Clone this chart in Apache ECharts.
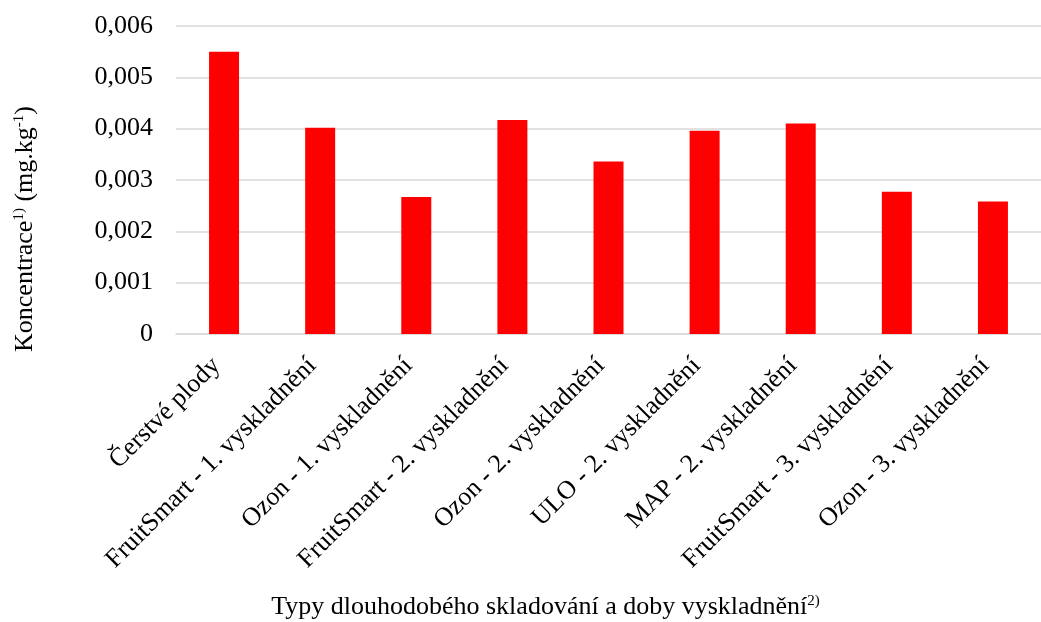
<!DOCTYPE html>
<html lang="cs">
<head>
    <meta charset="UTF-8">
    <title>Koncentrace</title>
    <script src="https://cdn.jsdelivr.net/npm/echarts@6/dist/echarts.min.js"></script>
    <style>
        html, body { margin: 0; padding: 0; background: #fff; }
        #chart { width: 1041px; height: 622px; }
    </style>
</head>
<body>
<div id="chart"></div>
<script type="text/javascript">
    // data
    var categories = ['Čerstvé plody', 'FruitSmart - 1. vyskladnění', 'Ozon - 1. vyskladnění',
        'FruitSmart - 2. vyskladnění', 'Ozon - 2. vyskladnění', 'ULO - 2. vyskladnění',
        'MAP - 2. vyskladnění', 'FruitSmart - 3. vyskladnění', 'Ozon - 3. vyskladnění'];
    var values = [0.0055, 0.00402, 0.00267, 0.00417, 0.00336, 0.00396, 0.0041, 0.00277, 0.00258];
    var yTicks = [0, 0.001, 0.002, 0.003, 0.004, 0.005, 0.006];

    var font = 'Liberation Serif';

    var option = {
        animation: false,
        grid: { left: 176, right: -8, top: 26, bottom: 288 },
        xAxis: {
            type: 'category',
            data: categories,
            axisLine: { lineStyle: { color: '#d9d9d9', width: 1.5 } },
            axisTick: { show: false },
            axisLabel: {
                interval: 0, rotate: 45, margin: 20,
                padding: [0, 11, 0, 0],
                fontFamily: font, fontSize: 26, color: '#000'
            },
            name: 'Typy dlouhodobého skladování a doby vyskladnění{s|2)}',
            nameLocation: 'middle',
            nameGap: 260,
            nameTextStyle: {
                fontFamily: font, fontSize: 26, color: '#000',
                padding: [0, 126, 0, 0],
                rich: { s: { fontFamily: font, fontSize: 15, verticalAlign: 'top', lineHeight: 24 } }
            }
        },
        yAxis: {
            type: 'value',
            min: yTicks[0],
            max: yTicks[yTicks.length - 1],
            interval: 0.001,
            axisLine: { show: false },
            axisTick: { show: false },
            splitLine: { lineStyle: { color: '#d9d9d9', width: 1.5 } },
            axisLabel: {
                margin: 23, fontFamily: font, fontSize: 26, color: '#000',
                formatter: function (v) { return v === 0 ? '0' : v.toFixed(3).replace('.', ','); }
            },
            name: 'Koncentrace{s|1)} (mg.kg{s|-1})',
            nameLocation: 'middle',
            nameGap: 138,
            nameTextStyle: {
                fontFamily: font, fontSize: 26, color: '#000',
                padding: [0, 98, 0, 0],
                rich: { s: { fontFamily: font, fontSize: 15, verticalAlign: 'top', lineHeight: 24 } }
            }
        },
        series: [{
            type: 'bar',
            data: values,
            barWidth: 30,
            itemStyle: { color: '#ff0000' }
        }]
    };

    var myChart = echarts.init(document.getElementById('chart'));
    myChart.setOption(option);
</script>
</body>
</html>
